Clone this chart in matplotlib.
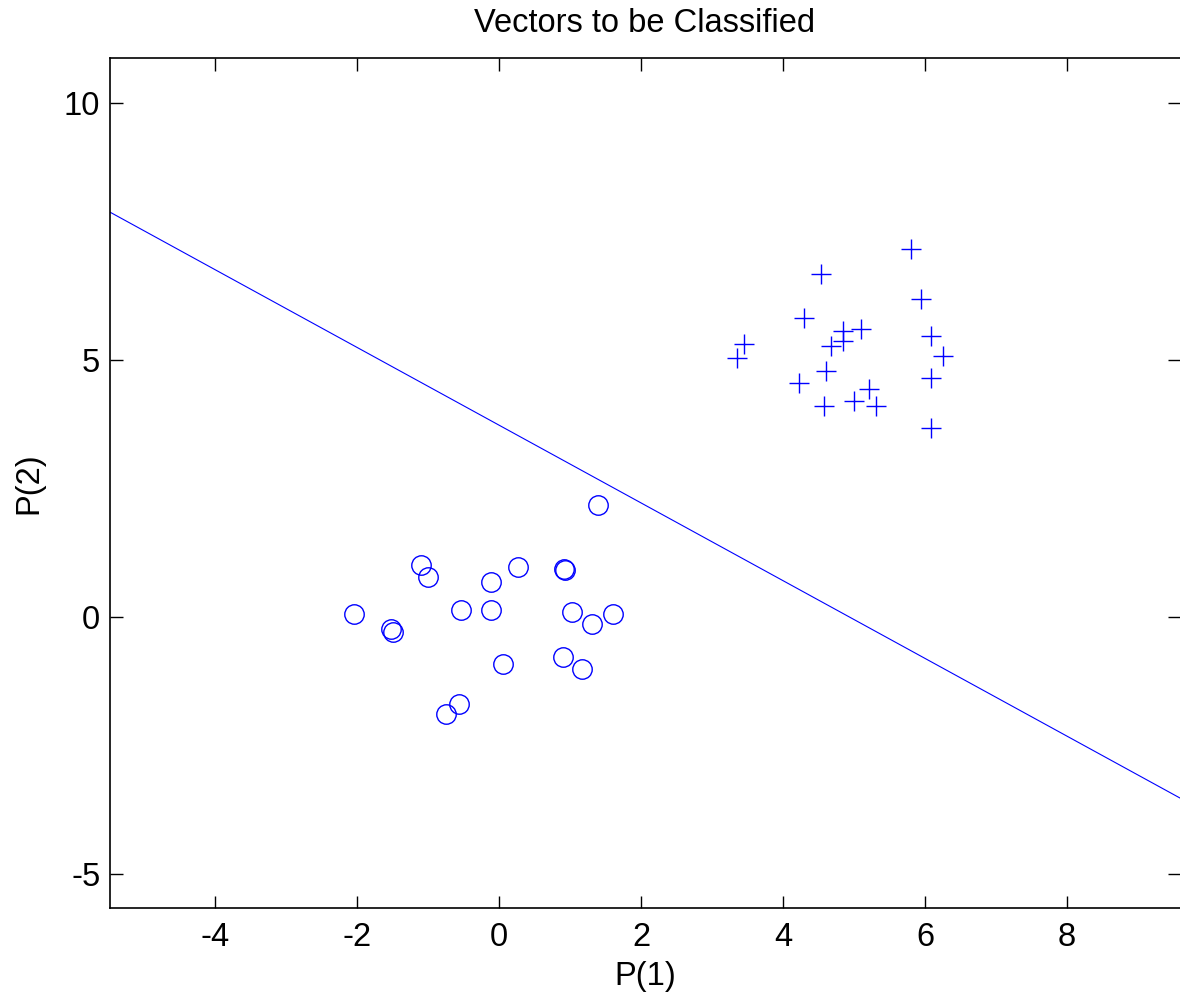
import numpy as np
import matplotlib
matplotlib.use("Agg")
import matplotlib.pyplot as plt

plt.rcParams["font.family"] = ["Liberation Sans", "DejaVu Sans"]
plt.rcParams["axes.unicode_minus"] = False

# ----------------------------
# data: class 0 (circles)
# ----------------------------
c0_x = [1.39, -1.10, -1.00, 0.27, -0.12, 0.91, 0.93, -2.04, -0.54, -0.12,
        -1.52, -1.49, 1.03, 1.31, 1.60, 0.06, 0.90, 1.17, -0.57, -0.75]
c0_y = [2.18, 1.01, 0.77, 0.96, 0.67, 0.92, 0.91, 0.05, 0.14, 0.14,
        -0.24, -0.30, 0.09, -0.15, 0.05, -0.92, -0.78, -1.02, -1.69, -1.89]

# class 1 (crosses)
c1_x = [5.80, 4.54, 5.94, 4.30, 4.85, 5.10, 3.45, 4.85, 4.68, 6.08,
        6.25, 3.35, 4.61, 4.23, 6.08, 5.21, 5.00, 4.57, 5.31, 6.08]
c1_y = [7.16, 6.68, 6.19, 5.81, 5.57, 5.60, 5.32, 5.37, 5.27, 5.47,
        5.08, 5.03, 4.79, 4.55, 4.64, 4.44, 4.20, 4.11, 4.11, 3.68]

# decision boundary  w1*x + w2*y + b = 0
weights = [0.757, 1.0]
bias = -3.73

x_lim = (-5.48, 9.59)
y_lim = (-5.67, 10.88)
x_ticks = [-4, -2, 0, 2, 4, 6, 8]
y_ticks = [-5, 0, 5, 10]

# ----------------------------
# plot
# ----------------------------
fs = 23.5
fig = plt.figure(figsize=(11.8, 9.96), dpi=100)
ax = fig.add_axes([0.0932, 0.0884, 0.9068, 0.8534])

ax.plot(c0_x, c0_y, "o", color="blue", markerfacecolor="none",
        markersize=14, markeredgewidth=1.0, linestyle="none")
ax.plot(c1_x, c1_y, "+", color="blue", markersize=15,
        markeredgewidth=1.0, linestyle="none")

xs = np.array(x_lim)
ys = -(weights[0] * xs + bias) / weights[1]
ax.plot(xs, ys, color="blue", linewidth=0.8)

ax.set_xlim(*x_lim)
ax.set_ylim(*y_lim)
ax.set_xticks(x_ticks)
ax.set_yticks(y_ticks)
ax.tick_params(direction="in", length=9, width=1.0, labelsize=fs,
               top=True, right=True)
ax.tick_params(axis="y", pad=7)
ax.tick_params(axis="x", pad=10)
ax.spines["right"].set_visible(False)
for s in ["left", "top", "bottom"]:
    ax.spines[s].set_linewidth(1.2)

ax.set_title("Vectors to be Classified", fontsize=fs, pad=19)
ax.set_xlabel("P(1)", fontsize=fs, labelpad=6)
ax.set_ylabel("P(2)", fontsize=fs, labelpad=14)

fig.savefig("out.png", dpi=100)
plt.close(fig)
